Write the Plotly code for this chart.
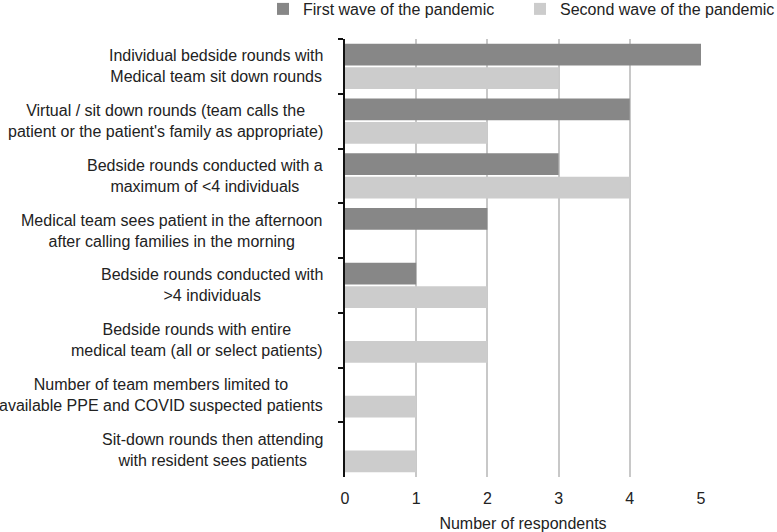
import plotly.graph_objects as go

categories = [
    "Individual bedside rounds with<br>Medical team sit down rounds",
    "Virtual / sit down rounds (team calls the<br>patient or the patient's family as appropriate)",
    "Bedside rounds conducted with a<br>maximum of &lt;4 individuals",
    "Medical team sees patient in the afternoon<br>after calling families in the morning",
    "Bedside rounds conducted with<br>&gt;4 individuals",
    "Bedside rounds with entire<br>medical team (all or select patients)",
    "Number of team members limited to<br>available PPE and COVID suspected patients",
    "Sit-down rounds then attending<br>with resident sees patients",
]
first_wave = [5, 4, 3, 2, 1, 0, 0, 0]
second_wave = [3, 2, 4, 0, 2, 2, 1, 1]
x_ticks = [0, 1, 2, 3, 4, 5]

FONT = "Liberation Sans, Arial, sans-serif"
TXT = "#222222"

fig = go.Figure()
fig.add_trace(go.Bar(y=categories, x=first_wave, orientation="h",
                     name="First wave of the pandemic",
                     marker=dict(color="#878787", line=dict(width=0))))
fig.add_trace(go.Bar(y=categories, x=second_wave, orientation="h",
                     name="Second wave of the pandemic",
                     marker=dict(color="#cccccc", line=dict(width=0))))

annotations = []
for c in categories:
    annotations.append(dict(x=0, xref="paper", y=c, yref="y", text=c,
                            showarrow=False, xanchor="right", yanchor="middle",
                            align="center", xshift=-20,
                            font=dict(family=FONT, size=16, color=TXT)))

fig.update_layout(
    width=777, height=532,
    margin=dict(l=345, r=76, t=39, b=55, autoexpand=False),
    paper_bgcolor="white", plot_bgcolor="white",
    barmode="group", bargap=0.14, bargroupgap=0.08,
    font=dict(family=FONT, size=16, color=TXT),
    showlegend=True,
    legend=dict(orientation="h", x=-0.2303, xanchor="left", y=1.0685, yanchor="middle",
                font=dict(family=FONT, size=16, color=TXT),
                entrywidth=212, entrywidthmode="pixels",
                bgcolor="rgba(0,0,0,0)"),
    annotations=annotations,
    xaxis=dict(range=[0, 5], tickvals=x_ticks, ticktext=[str(v) for v in x_ticks],
               showgrid=True, gridcolor="#c8c8c8", gridwidth=2,
               zeroline=False, showline=False, automargin=False,
               ticks="outside", ticklen=7, tickcolor="rgba(0,0,0,0)",
               tickfont=dict(family=FONT, size=16, color=TXT),
               title=dict(text="Number of respondents", standoff=12,
                          font=dict(family=FONT, size=16, color=TXT))),
    yaxis=dict(autorange="reversed", showticklabels=False, showgrid=False,
               showline=True, linecolor="#111111", linewidth=1.5, automargin=False,
               ticks="outside", tickson="boundaries", ticklen=5,
               tickcolor="#111111", tickwidth=1.5, zeroline=False),
)

fig.write_html("out.html", config={"displayModeBar": False},
               post_script="document.body.style.margin='0px';")
